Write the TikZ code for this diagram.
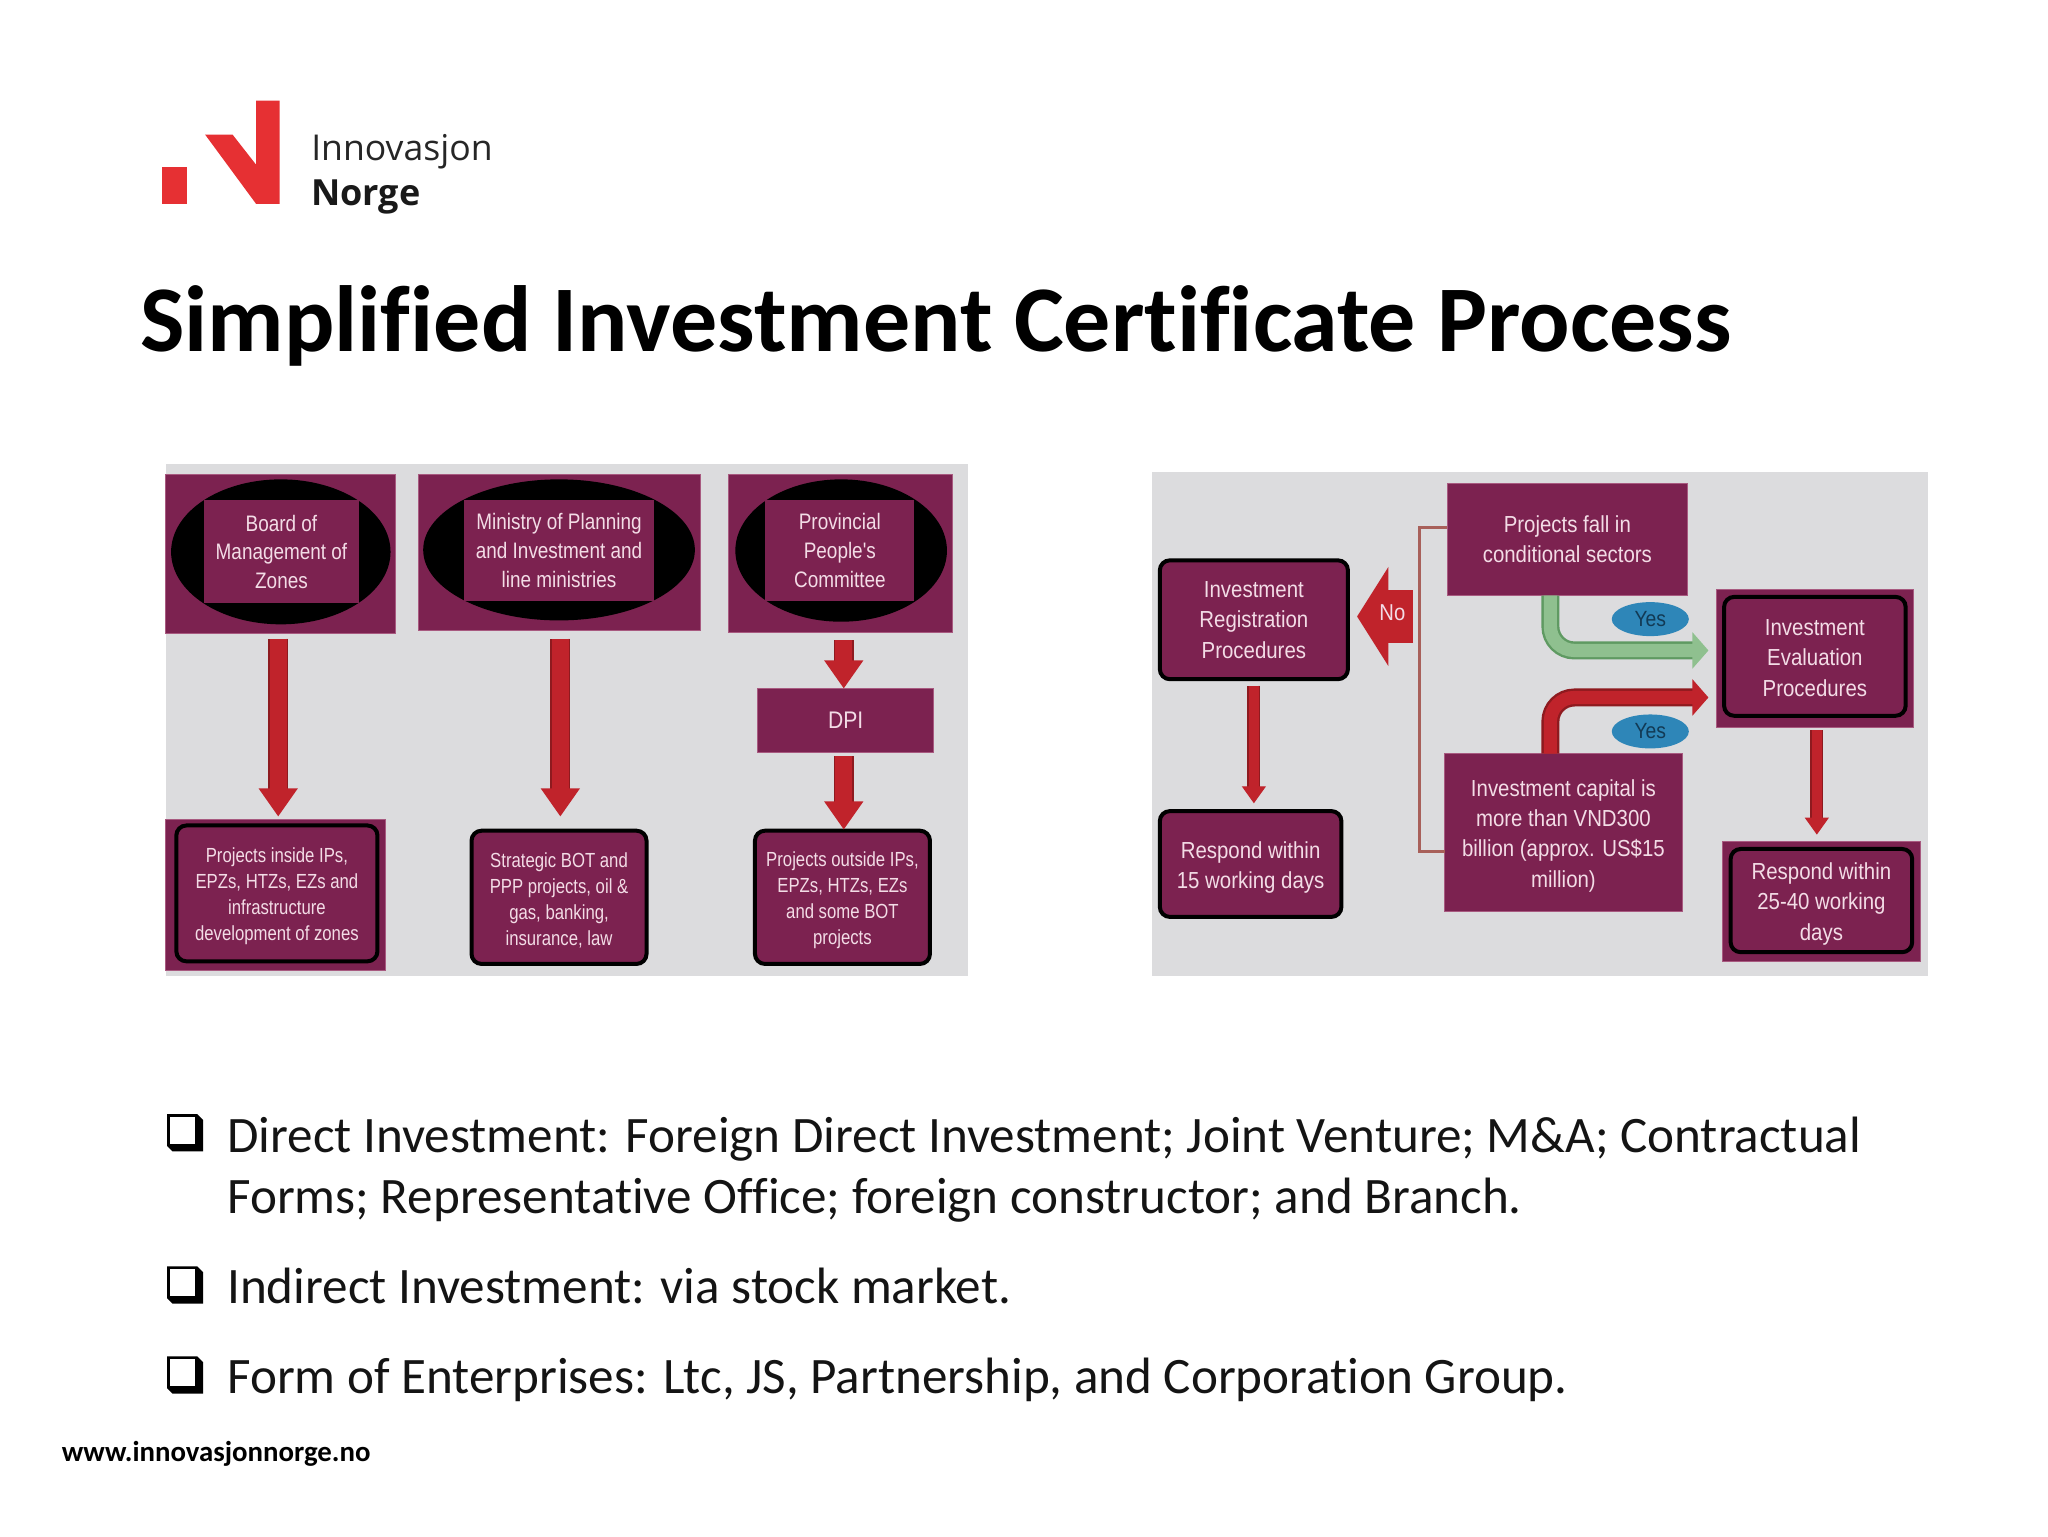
\documentclass[tikz,border=0pt]{standalone}
\usepackage{fontspec}
\setmainfont[Ligatures=NoCommon]{Carlito}
\newfontfamily\boxf[FakeStretch=0.88]{Liberation Sans}
\newfontfamily\boxfa[FakeStretch=0.845]{Liberation Sans}
\newfontfamily\boxfb[FakeStretch=0.82]{Liberation Sans}
\newfontfamily\logof{Open Sans}
\usetikzlibrary{arrows.meta,shapes.geometric}
\definecolor{maroon}{HTML}{7C2250}
\definecolor{maroonedge}{HTML}{A85A80}
\definecolor{panel}{HTML}{DCDCDE}
\definecolor{txt}{HTML}{F3DCE6}
\definecolor{arrowred}{HTML}{C0232B}
\definecolor{arrowdark}{HTML}{8E1A1F}
\definecolor{greenA}{HTML}{8FC08F}
\definecolor{greenB}{HTML}{5F9A62}
\definecolor{logored}{HTML}{E63033}
\definecolor{yesblue}{HTML}{2E86B8}
\definecolor{yestxt}{HTML}{123A55}
\definecolor{bracket}{HTML}{A8605A}
\newcommand{\pxu}{0.65306pt}
\newcommand{\dn}[1]{\rule{0pt}{#1pt}}
% \bx{name}{x1}{y1}{x2}{y2}{style}{text}
\newcommand{\bx}[7]{\node[#6,minimum width={(#4-#2)*\pxu},minimum height={(#5-#3)*\pxu}] (#1) at ({(#2+#4)/2},{(#3+#5)/2}) {#7};}
\tikzset{
  plain/.style={fill=maroon,inner sep=0pt,outer sep=0pt,align=center,text=txt},
  outerb/.style={plain,draw=maroonedge,line width=0.4pt},
  rbox/.style={plain,draw=black,line width=2pt,rounded corners=5pt},
  oval/.style={ellipse,fill=black,inner sep=0pt,outer sep=0pt},
  fa/.style={font={\boxfa\fontsize{11.2}{14.4}\selectfont}},
  fb/.style={font={\boxfb\fontsize{10.2}{13}\selectfont}},
  fc/.style={font={\boxf\fontsize{11.6}{15.2}\selectfont}},
  redarrow/.style={draw=arrowdark,double=arrowred,double distance=8.4pt,line width=0.8pt,
    -{Triangle[length=14pt,width=19.5pt,color=arrowred]}},
  smallred/.style={draw=arrowdark,double=arrowred,double distance=5pt,line width=0.7pt,
    -{Triangle[length=8.5pt,width=12pt,color=arrowred]}},
  bigarrow/.style={draw=arrowred,line width=26.8pt,-{Triangle[length=15.7pt,width=49pt,color=arrowred]}},
  greenarrow/.style={draw=greenB,double=greenA,double distance=6.6pt,line width=1.2pt,rounded corners=12pt,
    -{Triangle[length=8pt,width=18pt,color=greenA]}},
  redbend/.style={draw=arrowdark,double=arrowred,double distance=6.6pt,line width=1.2pt,rounded corners=12pt,
    -{Triangle[length=8pt,width=18pt,color=arrowred]}},
  yesnode/.style={ellipse,fill=yesblue,inner sep=0pt,outer sep=0pt,text=yestxt,font={\boxf\fontsize{11}{13}\selectfont}},
  bracketline/.style={draw=bracket,line width=1.4pt},
  body/.style={anchor=base west,inner sep=0pt,outer sep=0pt,font={\fontsize{25.56}{29}\selectfont},text=black!92},
}
\begin{document}
\begin{tikzpicture}[x=\pxu,y=-\pxu]
\useasboundingbox (0,0) rectangle (1568,1176);
\fill[white] (0,0) rectangle (1568,1176);

% logo
\fill[logored] (124,128) rectangle (143,156);
\fill[logored] (157,103) -- (178,103) -- (196,126) -- (196,77) -- (214,77) -- (214,156) -- (196,156) -- cycle;
\node[anchor=base west,inner sep=0pt,font={\logof\fontsize{17.8}{20}\selectfont},text=black!85] (inno) at (238,123) {Innovasjon};
\node[anchor=base west,inner sep=0pt,font={\logof\bfseries\fontsize{18}{20}\selectfont},text=black!90] (norge) at (238,157) {Norge};

% title
\node[anchor=base west,inner sep=0pt,font={\bfseries\fontsize{47}{50}\selectfont}] (title) at (107,269) {Simplified Investment Certificate Process};

% panels
\fill[panel] (127,355) rectangle (741,747);
\fill[panel] (882,361) rectangle (1476,747);

% left panel, top row
\bx{b1}{127}{363}{303}{485}{outerb}{}
\bx{o1}{131}{367}{299}{478}{oval}{}
\bx{t1}{156}{383}{275}{462}{plain,fa}{Board of\\Management of\\Zones}
\bx{b2}{320}{363}{536}{483}{outerb}{}
\bx{o2}{324}{367}{532}{475}{oval}{}
\bx{t2}{355}{383}{501}{460}{plain,fa}{Ministry of Planning\\and Investment and\\line ministries}
\bx{b3}{558}{363}{729}{484}{outerb}{}
\bx{o3}{563}{367}{725}{476}{oval}{}
\bx{t3}{586}{383}{700}{460}{plain,fa}{Provincial\\People's\\Committee}

% DPI
\bx{dpi}{580}{527}{715}{576}{outerb,font={\boxf\fontsize{12}{14}\selectfont}}{DPI}

% left panel, bottom row
\bx{p1o}{127}{627}{295}{743}{outerb}{}
\bx{p1}{135}{632}{289}{736}{rbox,fb}{\dn{10.4}Projects inside IPs,\\EPZs, HTZs, EZs and\\infrastructure\\development of zones}
\bx{p2}{361}{636}{495}{738}{rbox,fb}{\dn{10.4}Strategic BOT and\\PPP projects, oil \&\\gas, banking,\\insurance, law}
\bx{p3}{578}{636}{712}{738}{rbox,fb}{\dn{10.4}Projects outside IPs,\\EPZs, HTZs, EZs\\and some BOT\\projects}

% left panel arrows
\draw[redarrow,shorten <={4*\pxu},shorten >={2*\pxu}] (b1.south -| 213,0) -- (p1o.north -| 213,0);
\draw[redarrow,shorten <={6*\pxu},shorten >={11*\pxu}] (b2.south -| 429,0) -- (p2.north -| 429,0);
\draw[redarrow,shorten <={6*\pxu}] (b3.south -| 646,0) -- (dpi.north -| 646,0);
\draw[redarrow,shorten <={3*\pxu},shorten >={1*\pxu}] (dpi.south -| 646,0) -- (p3.north -| 646,0);

% right panel
\bx{proj}{1108}{370}{1292}{456}{outerb,fc}{Projects fall in\\conditional sectors}
\bx{reg}{888}{429}{1032}{520}{rbox,fc}{Investment\\Registration\\Procedures}
\bx{r15}{888}{621}{1027}{702}{rbox,fc}{\dn{12}Respond within\\15 working days}
\bx{cap}{1106}{577}{1288}{698}{outerb,fc}{\dn{11.5}Investment capital is\\more than VND300\\billion (approx. US\$15\\million)}
\bx{evo}{1314}{451}{1465}{557}{outerb}{}
\bx{ev}{1320}{457}{1459}{548}{rbox,fc}{\dn{9.5}Investment\\Evaluation\\Procedures}
\bx{r25o}{1319}{644}{1470}{736}{outerb}{}
\bx{r25}{1325}{650}{1464}{729}{rbox,fc}{\dn{11.5}Respond within\\25-40 working\\days}

\coordinate (bk) at (1087,520);
\draw[bracketline] (proj.west |- 0,404) -| (bk) |- (cap.west |- 0,652);

\coordinate (nostart) at (1082,472);
\draw[bigarrow,shorten >={7*\pxu}] (nostart) -- (reg.east |- nostart);
\node[inner sep=0pt,text=txt,font={\boxf\fontsize{11.5}{13}\selectfont}] (nolab) at (1066,469) {No};

\draw[smallred,shorten <={5*\pxu},shorten >={6*\pxu}] (reg.south -| 960,0) -- (r15.north -| 960,0);
\draw[smallred,shorten <={2*\pxu},shorten >={5*\pxu}] (evo.south -| 1391,0) -- (r25o.north -| 1391,0);

\coordinate (gturn) at (1187,498);
\coordinate (rturn) at (1187,534);
\draw[greenarrow,shorten >={6*\pxu}] (proj.south -| gturn) -- (gturn) -- (evo.west |- gturn);
\draw[redbend,shorten >={6*\pxu}] (cap.north -| rturn) -- (rturn) -- (evo.west |- rturn);

\bx{y1}{1234}{461}{1293}{487}{yesnode}{Yes}
\bx{y2}{1234}{547}{1293}{573}{yesnode}{Yes}

% bullets
\foreach \yy in {853,969.5,1038.5}{
  \fill[black] (128,\yy) -- ++(23,0) -- ++(4.5,4.5) -- ++(0,24) -- ++(-23.5,0) -- ++(-4,-4) -- cycle;
  \fill[white] (130,\yy+2) rectangle ++(19.5,20.5);
}
\node[body] (l1) at (174,882) {Direct Investment: Foreign Direct Investment; Joint Venture; M\&A; Contractual};
\node[body] (l2) at (174,929) {Forms; Representative Office; foreign constructor; and Branch.};
\node[body] (l3) at (174,998) {Indirect Investment: via stock market.};
\node[body] (l4) at (174,1067) {Form of Enterprises: Ltc, JS, Partnership, and Corporation Group.};

% footer
\node[anchor=base west,inner sep=0pt,font={\bfseries\fontsize{14.4}{16}\selectfont}] (foot) at (47,1119) {www.innovasjonnorge.no};
\end{tikzpicture}
\end{document}
